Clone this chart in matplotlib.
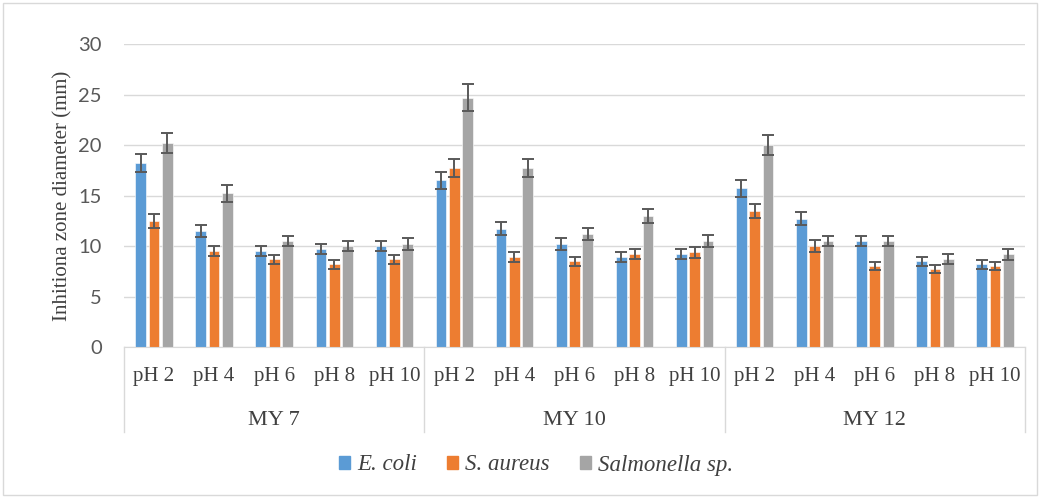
import matplotlib.pyplot as plt
import matplotlib.patches as mpatches
import numpy as np

plt.rcParams['font.family'] = ['Liberation Serif', 'DejaVu Serif']

groups = ["MY 7", "MY 10", "MY 12"]
ph_labels = ["pH 2", "pH 4", "pH 6", "pH 8", "pH 10"]
series = ["E. coli", "S. aureus", "Salmonella sp."]
colors = ["#5B9BD5", "#ED7D31", "#A5A5A5"]

ecoli = [18.2, 11.5, 9.5, 9.7, 10.0,
         16.5, 11.7, 10.2, 8.9, 9.2,
         15.7, 12.7, 10.5, 8.5, 8.2]
ecoli_err = [0.9, 0.6, 0.5, 0.5, 0.5,
             0.85, 0.65, 0.55, 0.5, 0.5,
             0.8, 0.65, 0.5, 0.45, 0.45]
saureus = [12.5, 9.5, 8.7, 8.2, 8.7,
           17.7, 8.9, 8.5, 9.2, 9.4,
           13.5, 10.0, 8.0, 7.7, 8.0]
saureus_err = [0.7, 0.5, 0.45, 0.45, 0.45,
               0.9, 0.5, 0.45, 0.5, 0.55,
               0.7, 0.55, 0.4, 0.4, 0.4]
salmonella = [20.2, 15.2, 10.5, 10.0, 10.2,
              24.7, 17.7, 11.2, 13.0, 10.5,
              20.0, 10.5, 10.5, 8.7, 9.2]
salmonella_err = [1.0, 0.8, 0.5, 0.5, 0.6,
                  1.3, 0.9, 0.6, 0.7, 0.55,
                  1.0, 0.5, 0.5, 0.5, 0.55]

values = [ecoli, saureus, salmonella]
errors = [ecoli_err, saureus_err, salmonella_err]
txt = "#404040"

fig = plt.figure(figsize=(10.41, 4.98), dpi=100)
ax = fig.add_axes([124 / 1041, 1 - 347 / 498, 901 / 1041, 303 / 498])

x = np.arange(len(ecoli))
w = 0.178
step = 0.222
for i in range(3):
    ax.bar(x + (i - 1) * step, values[i], w, color=colors[i], label=series[i],
           edgecolor="white", linewidth=0.4, zorder=2)
    ax.errorbar(x + (i - 1) * step, values[i], yerr=errors[i], fmt="none",
                ecolor="#595959", elinewidth=1.4, capsize=4, capthick=1.4, zorder=3)

ax.set_xlim(-0.5, len(ecoli) - 0.5)
ax.set_ylim(0, 30)
ax.set_yticks(range(0, 31, 5))
ax.tick_params(axis="y", length=0, labelsize=14.5, pad=16, colors="#595959")
for t in ax.get_yticklabels():
    t.set_fontfamily(["Lato", "DejaVu Sans"])
ax.set_xticks([])
ax.yaxis.grid(True, color="#D9D9D9", linewidth=1)
ax.set_axisbelow(True)
for s in ["top", "right", "left"]:
    ax.spines[s].set_visible(False)
ax.spines["bottom"].set_color("#D9D9D9")
ax.set_ylabel("Inhitiona zone diameter (mm)", fontsize=15, color=txt, labelpad=4)

tr = ax.get_xaxis_transform()
for k in range(len(ecoli)):
    ax.text(x[k], -0.099, ph_labels[k % 5], transform=tr, ha="center", va="center",
            fontsize=15, color=txt)
for g in range(3):
    ax.text(g * 5 + 2, -0.241, groups[g], transform=tr, ha="center", va="center",
            fontsize=16, color=txt)
for b in range(4):
    ax.plot([b * 5 - 0.5] * 2, [0, -0.28], transform=tr, color="#D9D9D9",
            linewidth=1, clip_on=False)

handles = [mpatches.Patch(color=colors[i], label=series[i]) for i in range(3)]
leg = fig.legend(handles=handles, loc="center", bbox_to_anchor=(536 / 1041, 1 - 465 / 498),
                 ncol=3, frameon=False, prop={"size": 16.5, "style": "italic"},
                 handlelength=0.5, handleheight=0.5, handletextpad=0.3, columnspacing=1.3)
for t in leg.get_texts():
    t.set_color(txt)

fig.patches.append(mpatches.Rectangle((3 / 1041, 3 / 498), 1034 / 1041, 492 / 498,
                                      transform=fig.transFigure, fill=False,
                                      edgecolor="#D9D9D9", linewidth=1))

fig.savefig("out.png", dpi=100)
